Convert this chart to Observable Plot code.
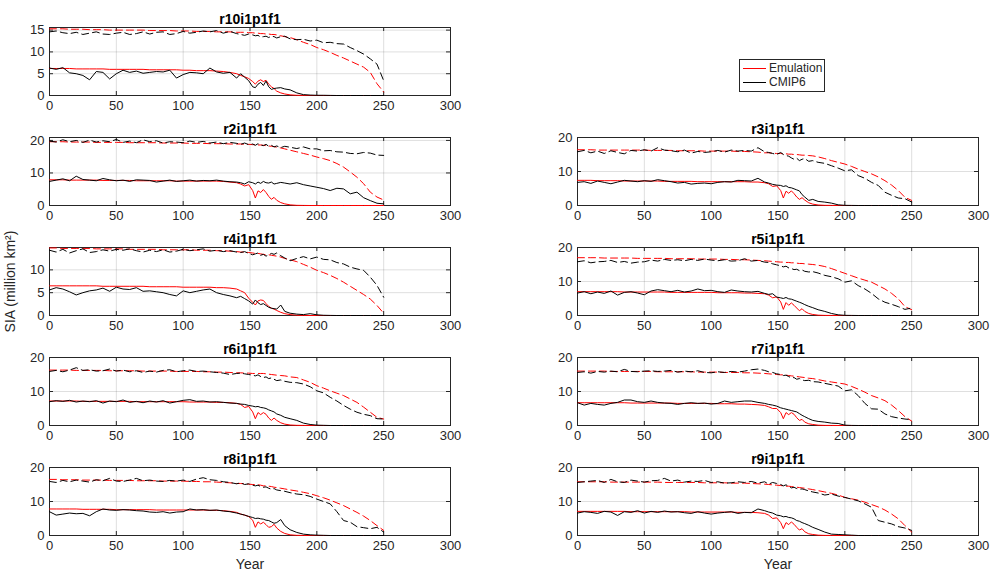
<!DOCTYPE html>
<html><head><meta charset="utf-8">
<script src="https://cdn.jsdelivr.net/npm/d3@7"></script>
<script src="https://cdn.jsdelivr.net/npm/@observablehq/plot@0.6"></script>
<style>
body{margin:0;background:#fff;}
#fig{position:relative;width:990px;height:572px;overflow:hidden;background:#fff;font-family:"Liberation Sans",Arial,Helvetica,sans-serif;color:#262626;}
#fig > svg{position:absolute;background:transparent;}
#legend{position:absolute;left:739px;top:59px;width:86px;height:33px;border:1px solid #262626;background:#fff;box-sizing:border-box;font-size:12px;}
#legend .row{position:absolute;left:0;height:14px;line-height:14px;white-space:nowrap;}
#legend .sw{position:absolute;left:3px;top:6.5px;width:23px;height:0;border-top:1px solid;}
#legend .lb{position:absolute;left:29px;top:0;}
</style></head><body><div id="fig"></div>
<script>
// ---------------- data ----------------
const years = [0,5,10,15,20,25,30,35,40,45,50,55,60,65,70,75,80,85,90,95,100,105,110,115,120,125,130,135,140,
  143,146,149,152,154,156,158,160,162,164,166,168,170,173,176,180,
  185,190,195,200,205,210,215,220,225,230,235,240,245,250];

const runs = ["r10i1p1f1","r2i1p1f1","r3i1p1f1","r4i1p1f1","r5i1p1f1","r6i1p1f1","r7i1p1f1","r8i1p1f1","r9i1p1f1"];
const yMax = [15.6, 20.9, 20, 14.9, 20, 20, 20, 20, 20];
const yTickLabels = [[0,5,10,15],[0,10,20],[0,10,20],[0,5,10],[0,10,20],[0,10,20],[0,10,20],[0,10,20],[0,10,20]];
const xTickLabels = [0,50,100,150,200,250,300];
const legendLabels = ["Emulation","CMIP6"];

// r10
const emuMin_r10 = [6.2,6.2,6.2,6.2,6.1,6.1,6.1,6.1,6.1,6.0,6.0,6.0,6.0,6.0,6.0,5.9,5.9,5.9,5.9,5.9,5.8,5.8,5.7,5.7,5.7,5.6,5.5,5.3,5.0,
  4.6,4.3,3.9,3.2,2.6,3.3,3.6,3.2,3.5,2.6,2.0,1.6,1.0,0.6,0.35,0.15,
  0.05,0.02,0,0,0,0,0,0,0,0,0,0,0,0];
const cmipMin_r10 = [6.3,6.0,6.4,5.2,5.0,4.6,3.6,5.5,5.3,3.8,5.0,5.8,5.3,5.6,5.1,5.3,5.5,5.4,5.8,4.0,4.8,5.3,5.2,5.0,6.3,5.4,5.1,5.3,4.0,
  5.0,4.2,3.4,2.0,1.8,2.6,3.0,2.3,3.3,2.0,1.4,1.6,1.7,1.8,1.5,1.3,
  0.6,0.2,0.1,0.05,0.05,0.02,0,0,0,0,0,0,0,0];
const emuMax_r10 = [15.3,15.3,15.3,15.2,15.2,15.2,15.1,15.1,15.1,15.0,15.0,15.0,15.0,15.0,15.0,14.9,14.9,14.9,14.9,14.8,14.8,14.8,14.7,14.7,14.7,14.6,14.6,14.6,14.5,
  14.5,14.5,14.4,14.4,14.3,14.3,14.2,14.2,14.1,14.1,14.0,14.0,13.9,13.7,13.5,13.3,
  12.8,12.2,11.7,11.0,10.5,9.9,9.2,8.6,7.9,7.2,6.5,5.3,2.7,0.8];
const cmipMax_r10 = [14.6,14.8,14.4,14.2,14.5,14.0,14.3,14.6,14.1,14.0,14.3,14.5,14.0,14.2,14.6,14.1,14.5,14.6,14.0,14.2,14.7,14.3,14.5,14.8,14.6,14.9,14.3,14.7,14.2,
  14.0,13.8,14.1,13.9,13.7,13.8,13.4,13.5,13.6,13.3,13.6,13.5,13.2,13.5,13.6,13.0,
  12.8,12.9,12.5,12.7,12.1,12.2,11.9,11.8,11.0,10.3,9.5,8.4,7.2,3.4];
// r2
const emuMin_r2 = [7.9,7.9,7.9,7.8,7.8,7.8,7.8,7.8,7.7,7.7,7.7,7.7,7.7,7.6,7.6,7.6,7.6,7.6,7.6,7.5,7.5,7.5,7.5,7.5,7.5,7.5,7.4,7.2,7.0,
  6.6,6.0,6.4,4.6,2.3,4.5,4.0,4.9,4.0,2.8,1.9,2.5,1.6,0.9,0.5,0.2,
  0.05,0.02,0,0,0,0,0,0,0,0,0,0,0,0];
const cmipMin_r2 = [7.4,7.8,8.2,7.6,9.0,8.0,7.8,7.6,8.3,7.9,7.6,7.8,7.4,7.9,7.8,7.7,7.2,7.5,7.8,7.4,7.6,7.8,7.5,7.7,7.6,7.8,7.5,7.3,7.2,
  7.0,6.6,7.3,7.0,6.6,7.2,6.8,7.4,7.0,6.9,7.2,6.6,6.8,7.1,6.9,6.6,
  7.0,6.4,6.0,5.6,5.2,4.6,5.3,5.1,3.6,4.1,2.4,1.5,0.7,0.5];
const emuMax_r2 = [19.6,19.6,19.6,19.5,19.5,19.5,19.5,19.4,19.4,19.4,19.4,19.4,19.3,19.3,19.3,19.3,19.3,19.2,19.2,19.2,19.2,19.1,19.1,19.1,19.0,19.0,19.0,18.9,18.9,
  18.9,18.8,18.8,18.7,18.7,18.6,18.6,18.5,18.4,18.3,18.2,18.1,17.9,17.7,17.4,17.0,
  16.5,16.0,15.5,14.9,14.4,13.8,12.9,11.8,10.3,8.7,6.7,4.1,2.6,1.7];
const cmipMax_r2 = [19.8,19.5,20.2,19.6,20.0,19.4,20.1,19.5,19.9,19.6,20.3,19.4,19.8,19.3,20.2,19.6,19.9,19.2,19.6,19.5,19.3,19.8,19.4,19.7,19.2,19.5,19.0,19.4,19.1,
  18.8,19.2,18.7,18.9,18.5,19.0,18.6,18.4,18.8,18.2,18.5,18.0,18.3,17.8,18.2,17.9,
  17.5,18.0,17.4,17.4,16.8,16.9,16.5,16.4,16.0,15.9,16.3,16.1,15.5,15.4];
// r3
const emuMin_r3 = [7.4,7.4,7.4,7.3,7.3,7.3,7.3,7.2,7.2,7.2,7.2,7.2,7.2,7.1,7.1,7.1,7.1,7.1,7.0,7.0,7.0,7.0,7.0,7.0,7.0,7.0,6.9,6.9,6.7,
  6.4,5.6,5.8,4.4,2.2,4.2,3.6,4.3,3.5,2.5,1.8,2.3,1.6,0.8,0.4,0.15,
  0.05,0.02,0,0,0,0,0,0,0,0,0,0,0,0];
const cmipMin_r3 = [6.8,7.0,6.5,7.2,6.8,6.4,6.9,7.4,7.2,7.0,7.3,7.1,7.6,7.3,7.0,6.6,6.8,6.3,6.5,6.6,6.4,6.8,7.0,6.9,7.4,7.3,7.2,8.0,6.9,
  6.6,6.2,6.0,5.9,5.6,5.8,5.3,5.2,4.9,4.6,4.3,3.2,2.5,1.5,1.8,1.2,
  1.0,0.7,0.2,0.05,0.02,0,0,0,0,0,0,0,0,0];
const emuMax_r3 = [16.4,16.4,16.4,16.3,16.3,16.3,16.3,16.3,16.3,16.3,16.3,16.2,16.2,16.2,16.2,16.1,16.1,16.1,16.1,16.0,16.0,16.0,16.0,16.0,15.9,15.9,15.8,15.7,15.5,
  15.5,15.4,15.3,15.3,15.2,15.2,15.1,15.1,15.0,15.0,14.9,14.8,14.8,14.7,14.6,14.3,
  13.8,13.2,12.7,12.2,11.5,10.7,10.0,9.3,8.4,7.3,6.0,4.4,2.4,1.5];
const cmipMax_r3 = [15.8,16.2,15.5,16.0,15.3,16.1,15.6,15.2,16.2,16.0,16.4,16.0,17.0,16.3,16.1,15.8,16.3,15.4,15.9,15.6,15.8,16.2,15.7,16.3,16.0,16.2,16.0,17.0,15.8,
  15.6,15.3,15.0,15.6,15.0,14.7,14.5,14.0,13.6,13.9,13.2,13.6,13.8,13.0,13.2,12.7,
  12.4,11.7,11.0,10.2,10.5,8.8,8.0,6.8,5.9,3.9,3.0,2.2,2.0,1.0];
// r4
const emuMin_r4 = [6.5,6.5,6.5,6.5,6.5,6.5,6.5,6.5,6.4,6.4,6.4,6.4,6.4,6.4,6.4,6.3,6.3,6.3,6.3,6.3,6.2,6.2,6.2,6.2,6.2,6.1,6.1,6.0,5.8,
  5.4,5.0,3.8,2.9,2.3,3.2,3.4,3.3,2.6,2.0,1.6,1.4,1.1,0.7,0.4,0.2,
  0.05,0.02,0,0,0,0,0,0,0,0,0,0,0,0];
const cmipMin_r4 = [5.6,6.1,5.8,5.2,4.5,5.0,5.4,5.6,6.0,5.3,6.2,5.8,5.7,6.1,5.3,5.4,5.2,5.0,4.6,4.3,5.4,5.0,5.3,5.6,5.8,5.0,4.6,4.3,3.9,
  4.2,3.7,3.2,2.5,3.4,2.8,2.4,2.6,2.2,1.8,1.6,1.5,1.4,2.3,0.9,0.5,
  0.3,0.2,0.4,0.15,0.05,0.02,0,0,0,0,0,0,0,0];
const emuMax_r4 = [14.8,14.8,14.7,14.7,14.7,14.7,14.7,14.6,14.6,14.6,14.6,14.6,14.5,14.5,14.5,14.5,14.5,14.4,14.4,14.4,14.4,14.4,14.3,14.3,14.3,14.2,14.2,14.1,14.0,
  13.9,13.9,13.8,13.7,13.6,13.6,13.5,13.4,13.3,13.3,13.2,13.1,13.0,12.8,12.5,12.2,
  11.8,11.2,10.6,9.9,9.4,8.8,8.1,7.3,6.4,5.5,4.6,3.6,2.2,0.5];
const cmipMax_r4 = [14.3,13.9,14.5,13.7,14.2,14.6,13.8,14.0,14.4,14.1,14.5,14.3,14.6,14.2,13.9,14.3,14.0,14.4,13.9,14.1,14.5,14.2,14.4,14.6,14.1,14.3,14.0,14.2,13.9,
  13.8,14.0,13.6,13.3,13.5,13.7,13.2,13.4,13.0,13.3,13.6,13.4,13.7,13.1,12.6,12.0,
  12.5,12.9,12.4,12.8,12.3,12.2,11.6,11.3,10.6,10.2,9.9,8.4,6.6,4.0];
// r5
const emuMin_r5 = [7.0,7.0,7.0,7.0,7.0,7.0,7.0,6.9,6.9,6.9,6.9,6.9,6.9,6.9,6.8,6.8,6.8,6.8,6.8,6.8,6.8,6.7,6.7,6.7,6.7,6.6,6.6,6.5,6.4,
  6.0,5.2,5.5,4.0,1.8,3.8,3.0,3.7,3.0,2.2,1.4,2.0,1.2,0.6,0.3,0.1,
  0.03,0.01,0,0,0,0,0,0,0,0,0,0,0,0];
const cmipMin_r5 = [6.6,7.0,6.4,6.9,6.5,7.2,6.0,6.8,7.0,6.6,6.1,7.2,7.6,7.3,7.0,7.4,6.9,7.2,7.8,7.3,7.4,7.0,6.8,7.5,7.2,7.0,6.9,7.1,6.5,
  6.2,6.4,5.4,5.2,5.0,5.3,4.9,4.8,4.5,4.2,3.9,3.6,3.2,2.7,2.3,1.7,
  1.2,0.6,0.2,0.05,0.02,0,0,0,0,0,0,0,0,0];
const emuMax_r5 = [17.0,17.0,17.0,17.0,16.9,16.9,16.9,16.9,16.9,16.8,16.8,16.8,16.8,16.8,16.7,16.7,16.7,16.7,16.6,16.6,16.6,16.6,16.5,16.5,16.4,16.4,16.3,16.2,16.1,
  16.0,15.9,15.8,15.7,15.7,15.6,15.6,15.5,15.5,15.4,15.3,15.3,15.2,15.1,15.0,14.8,
  14.4,13.8,13.1,12.4,11.7,11.0,10.4,9.8,8.8,7.8,6.5,4.9,2.6,1.7];
const cmipMax_r5 = [15.8,16.1,15.5,15.8,15.9,16.2,15.6,15.9,15.4,15.7,15.8,16.3,16.0,16.5,16.2,16.4,16.1,16.5,16.2,16.6,16.3,16.1,16.4,16.0,16.1,16.7,16.0,16.2,15.7,
  15.6,15.2,14.9,14.6,14.3,14.5,14.0,13.8,13.5,13.6,13.2,13.4,13.0,12.8,12.9,12.5,
  11.8,11.4,10.8,9.8,10.2,8.8,7.8,6.5,4.9,3.9,3.3,2.6,1.8,2.2];
// r6
const emuMin_r6 = [7.2,7.2,7.2,7.2,7.2,7.1,7.1,7.1,7.1,7.1,7.1,7.1,7.1,7.0,7.0,7.0,7.0,7.0,7.0,7.0,7.0,6.9,6.9,6.9,6.9,6.8,6.8,6.7,6.5,
  6.2,5.3,5.6,4.0,2.0,3.8,3.2,3.8,3.3,2.2,1.5,2.2,1.5,0.8,0.4,0.15,
  0.05,0.02,0,0,0,0,0,0,0,0,0,0,0,0];
const cmipMin_r6 = [7.0,7.3,7.1,7.4,6.9,7.2,7.0,7.3,6.6,7.2,7.0,7.5,6.8,7.1,6.7,7.2,6.9,7.3,6.6,7.0,7.4,7.6,7.1,7.2,6.9,7.0,6.8,6.6,6.5,
  6.3,6.2,5.9,5.7,5.5,5.6,5.3,5.2,5.0,4.6,4.3,4.0,3.4,3.0,2.4,2.0,
  1.5,0.7,0.3,0.1,0.05,0,0,0,0,0,0,0,0,0];
const emuMax_r6 = [16.3,16.3,16.3,16.3,16.2,16.2,16.2,16.2,16.2,16.1,16.1,16.1,16.1,16.1,16.0,16.0,16.0,16.0,16.0,15.9,15.9,15.9,15.9,15.8,15.8,15.7,15.7,15.6,15.5,
  15.5,15.4,15.4,15.3,15.3,15.3,15.3,15.3,15.2,15.1,15.0,14.9,14.8,14.7,14.6,14.3,
  14.1,13.4,12.7,11.7,11.0,10.2,9.5,8.8,7.8,6.8,5.4,3.9,2.4,1.9];
const cmipMax_r6 = [15.9,16.2,15.8,16.3,17.0,16.2,16.4,16.0,16.1,16.6,16.0,16.3,15.8,16.1,15.6,16.0,15.7,16.2,16.4,15.8,16.1,16.3,15.9,16.0,15.8,15.6,15.4,15.0,15.3,
  15.4,15.2,15.0,14.8,14.6,14.9,14.4,14.1,14.3,13.8,14.0,13.6,13.2,13.4,13.0,12.7,
  12.6,12.2,11.4,10.2,9.6,8.3,7.2,5.9,4.8,3.9,3.3,2.9,2.0,1.9];
// r7
const emuMin_r7 = [6.7,6.7,6.7,6.7,6.7,6.7,6.7,6.7,6.6,6.6,6.6,6.6,6.6,6.6,6.6,6.5,6.5,6.5,6.5,6.5,6.5,6.4,6.4,6.4,6.3,6.3,6.2,6.1,5.9,
  5.5,5.0,5.0,3.8,2.0,3.8,3.2,3.8,3.3,2.3,1.5,1.8,1.0,0.5,0.3,0.1,
  0.03,0.01,0,0,0,0,0,0,0,0,0,0,0,0];
const cmipMin_r7 = [6.7,6.0,6.5,6.2,6.0,6.5,6.8,7.5,7.5,7.0,6.8,7.2,6.8,6.6,6.5,6.2,6.5,6.7,6.5,6.6,6.3,6.5,7.2,6.8,7.0,7.2,7.2,6.8,6.5,
  6.2,6.0,5.7,5.2,5.0,4.8,4.6,4.4,4.2,4.0,3.5,3.0,2.6,2.0,1.5,1.2,
  1.0,0.7,0.6,0.1,0.02,0,0,0,0,0,0,0,0,0];
const emuMax_r7 = [16.0,16.0,16.0,16.0,16.0,15.9,15.9,15.9,15.9,15.9,15.9,15.9,15.8,15.8,15.8,15.8,15.8,15.8,15.7,15.7,15.7,15.7,15.6,15.6,15.6,15.5,15.5,15.4,15.3,
  15.2,15.1,15.0,14.9,14.9,14.8,14.7,14.6,14.5,14.4,14.3,14.2,14.1,13.9,13.8,13.5,
  13.1,12.8,12.5,12.2,11.5,10.7,9.8,8.8,8.1,7.3,6.0,4.4,2.6,1.3];
const cmipMax_r7 = [15.6,15.8,15.4,15.9,15.7,16.0,15.8,16.5,15.9,15.8,16.0,16.1,15.9,16.0,16.2,15.7,16.0,15.8,16.1,15.6,15.5,15.8,15.6,15.9,15.7,16.0,16.4,16.6,16.2,
  15.8,15.6,15.2,15.0,14.7,14.8,14.4,14.0,14.1,13.6,13.8,13.4,13.2,13.3,12.9,12.8,
  12.4,12.0,11.6,10.2,10.5,8.8,6.5,4.9,4.8,3.4,2.6,2.2,1.9,1.7];
// r8
const emuMin_r8 = [7.8,7.8,7.8,7.8,7.8,7.7,7.7,7.7,7.7,7.7,7.6,7.6,7.6,7.6,7.6,7.6,7.5,7.5,7.5,7.5,7.5,7.5,7.5,7.5,7.4,7.4,7.3,7.1,6.8,
  6.3,6.0,5.6,4.5,2.4,4.0,3.4,3.9,3.2,2.4,2.6,3.3,2.2,1.2,0.6,0.2,
  0.05,0.02,0,0,0,0,0,0,0,0,0,0,0,0];
const cmipMin_r8 = [7.0,6.0,6.3,6.6,6.4,6.5,5.8,7.0,7.8,7.5,7.4,7.6,7.5,7.3,7.2,6.9,6.8,7.0,6.6,6.9,7.0,7.8,7.5,7.6,7.4,7.5,7.2,7.0,6.6,
  6.3,6.0,5.6,5.3,5.0,5.1,4.9,4.8,4.5,4.4,4.0,3.6,3.8,4.7,2.9,1.7,
  0.9,0.4,0.2,0.1,0.05,0,0,0,0,0,0,0,0,0];
const emuMax_r8 = [16.5,16.5,16.4,16.4,16.4,16.3,16.3,16.3,16.3,16.2,16.2,16.2,16.2,16.1,16.1,16.1,16.1,16.0,16.0,16.0,16.0,15.9,15.9,15.8,15.8,15.7,15.6,15.5,15.3,
  15.3,15.2,15.1,15.0,15.0,14.9,14.8,14.6,14.6,14.5,14.4,14.2,14.1,13.9,13.7,13.4,
  13.1,12.7,12.3,11.7,11.1,10.4,9.6,8.8,7.8,6.8,5.7,4.4,2.9,1.5];
const cmipMax_r8 = [15.9,15.6,16.2,15.8,16.3,16.0,15.7,16.4,16.1,16.8,16.0,15.9,16.3,16.8,16.1,16.3,16.0,15.9,16.2,16.0,16.3,15.9,16.6,17.0,16.4,16.2,15.8,15.6,15.2,
  15.5,15.0,15.2,14.8,14.6,14.8,14.4,14.2,14.3,13.9,13.6,13.8,13.4,13.2,13.0,12.6,
  12.2,12.0,11.5,10.7,10.0,9.3,7.0,4.4,3.9,2.6,2.3,2.0,2.4,1.0];
// r9
const emuMin_r9 = [7.1,7.1,7.1,7.1,7.1,7.1,7.1,7.1,7.0,7.0,7.0,7.0,7.0,7.0,7.0,7.0,7.0,6.9,6.9,6.9,6.9,6.9,6.9,6.9,6.8,6.8,6.8,6.7,6.5,
  6.0,5.0,5.2,3.8,2.0,3.8,3.2,4.0,3.3,2.4,1.6,2.0,1.1,0.5,0.3,0.1,
  0.03,0.01,0,0,0,0,0,0,0,0,0,0,0,0];
const cmipMin_r9 = [6.6,7.0,6.8,6.5,7.1,6.9,5.9,7.0,6.8,7.3,6.6,7.1,6.8,7.2,6.9,7.0,6.7,6.5,7.0,6.6,6.3,6.6,6.8,7.0,6.5,6.8,6.7,7.8,7.3,
  6.9,6.6,6.0,5.8,5.5,5.6,5.3,5.2,4.9,4.4,4.2,3.8,3.5,3.0,2.4,1.8,
  1.0,0.4,0.3,0.2,0.1,0,0,0,0,0,0,0,0,0];
const emuMax_r9 = [15.8,15.8,15.8,15.8,15.8,15.7,15.7,15.7,15.7,15.7,15.7,15.7,15.7,15.6,15.6,15.6,15.6,15.6,15.6,15.5,15.5,15.5,15.5,15.4,15.4,15.4,15.3,15.2,15.1,
  15.0,14.9,14.8,14.7,14.6,14.5,14.5,14.4,14.3,14.2,14.1,14.0,13.9,13.7,13.5,13.2,
  12.8,12.4,11.9,11.2,10.8,10.4,9.8,9.1,8.4,7.5,6.3,4.9,2.9,1.0];
const cmipMax_r9 = [15.6,15.8,16.0,16.2,15.6,16.5,15.8,15.6,16.3,16.0,15.7,16.1,16.2,16.8,16.0,16.3,15.7,16.0,15.9,16.2,15.6,15.8,15.4,15.5,15.8,15.6,15.9,15.4,15.8,
  15.1,15.6,15.3,15.0,14.6,14.9,14.5,14.0,14.2,13.8,13.6,13.7,13.5,13.1,12.8,12.5,
  11.9,12.2,11.6,11.2,10.7,10.2,9.3,8.3,4.4,3.9,3.4,2.6,2.2,1.5];

// lookup built from the arrays above
const seriesByRun = [
  [emuMin_r10, cmipMin_r10, emuMax_r10, cmipMax_r10],
  [emuMin_r2, cmipMin_r2, emuMax_r2, cmipMax_r2],
  [emuMin_r3, cmipMin_r3, emuMax_r3, cmipMax_r3],
  [emuMin_r4, cmipMin_r4, emuMax_r4, cmipMax_r4],
  [emuMin_r5, cmipMin_r5, emuMax_r5, cmipMax_r5],
  [emuMin_r6, cmipMin_r6, emuMax_r6, cmipMax_r6],
  [emuMin_r7, cmipMin_r7, emuMax_r7, cmipMax_r7],
  [emuMin_r8, cmipMin_r8, emuMax_r8, cmipMax_r8],
  [emuMin_r9, cmipMin_r9, emuMax_r9, cmipMax_r9]
];
seriesByRun.forEach((s, i) => s.forEach((a, j) => {
  if (a.length !== years.length) throw new Error(`length mismatch run ${runs[i]} series ${j}: ${a.length} vs ${years.length}`);
}));

// ---------------- layout ----------------
const slot = {"r10i1p1f1":[0,0],"r2i1p1f1":[0,1],"r3i1p1f1":[1,1],"r4i1p1f1":[0,2],"r5i1p1f1":[1,2],
  "r6i1p1f1":[0,3],"r7i1p1f1":[1,3],"r8i1p1f1":[0,4],"r9i1p1f1":[1,4]};
const PW = 401, PH = 68, ML = 45, MR = 12, MT = 22;
const colLeft = [49, 577];
const rowTop = [27, 137, 247, 357, 467];
const RED = "#ff0000", BLACK = "#000000", AX = "#262626";
const FONT = "'Liberation Sans', Arial, Helvetica, sans-serif";

const fig = document.getElementById("fig");

runs.forEach((run, i) => {
  const [c, r] = slot[run];
  const MB = r === 4 ? 42 : 20;
  const [emuMin, cmipMin, emuMax, cmipMax] = seriesByRun[i];
  const rows = (arr) => years.map((y, k) => ({year: y, v: arr[k]}));
  const yt = yTickLabels[i];
  const marks = [
    Plot.gridX({ticks: xTickLabels, stroke: AX, strokeOpacity: 0.15}),
    Plot.gridY({ticks: yt, stroke: AX, strokeOpacity: 0.15}),
    Plot.frame({stroke: AX, strokeWidth: 1}),
    Plot.tickX(xTickLabels, {x: d => d, insetTop: PH - 4, stroke: AX}),
    Plot.tickX(xTickLabels, {x: d => d, insetBottom: PH - 4, stroke: AX}),
    Plot.tickY(yt, {y: d => d, insetRight: PW - 4, stroke: AX}),
    Plot.tickY(yt, {y: d => d, insetLeft: PW - 4, stroke: AX}),
    Plot.line(rows(emuMax), {x: "year", y: "v", stroke: RED, strokeWidth: 1, strokeDasharray: "7,4"}),
    Plot.line(rows(emuMin), {x: "year", y: "v", stroke: RED, strokeWidth: 1}),
    Plot.line(rows(cmipMax), {x: "year", y: "v", stroke: BLACK, strokeWidth: 1, strokeDasharray: "7,4"}),
    Plot.line(rows(cmipMin), {x: "year", y: "v", stroke: BLACK, strokeWidth: 1}),
    Plot.axisX({ticks: xTickLabels, tickSize: 0, tickPadding: 5, label: null, fontSize: 13, fill: AX}),
    Plot.axisY({ticks: yt, tickSize: 0, tickPadding: 5, label: null, fontSize: 13, fill: AX}),
    Plot.text([run], {frameAnchor: "top", text: d => d, dy: -4, lineAnchor: "bottom", fontWeight: "bold", fontSize: 14, fill: "#000"})
  ];
  if (run === "r4i1p1f1") {
    marks.push(Plot.text(["SIA (million km²)"], {frameAnchor: "left", text: d => d, rotate: -90, dx: -39, textAnchor: "middle", lineAnchor: "middle", fontSize: 14, fill: AX}));
  }
  if (r === 4) {
    marks.push(Plot.text(["Year"], {frameAnchor: "bottom", text: d => d, dy: 29, lineAnchor: "middle", fontSize: 14, fill: AX}));
  }
  const svg = Plot.plot({
    width: ML + PW + MR,
    height: MT + PH + MB,
    marginLeft: ML, marginRight: MR, marginTop: MT, marginBottom: MB,
    x: {domain: [0, 300]},
    y: {domain: [0, yMax[i]]},
    style: {fontFamily: FONT, fontSize: "13px", color: AX, background: "transparent", overflow: "visible"},
    marks
  });
  svg.style.left = (colLeft[c] - ML) + "px";
  svg.style.top = (rowTop[r] - MT) + "px";
  svg.style.position = "absolute";
  fig.appendChild(svg);
});

// legend
const legend = document.createElement("div");
legend.id = "legend";
[[legendLabels[0], RED, 1], [legendLabels[1], BLACK, 15]].forEach(([label, color, top]) => {
  const row = document.createElement("div");
  row.className = "row";
  row.style.top = top + "px";
  row.innerHTML = `<span class="sw" style="border-color:${color}"></span><span class="lb">${label}</span>`;
  legend.appendChild(row);
});
fig.appendChild(legend);
</script>
</body></html>
